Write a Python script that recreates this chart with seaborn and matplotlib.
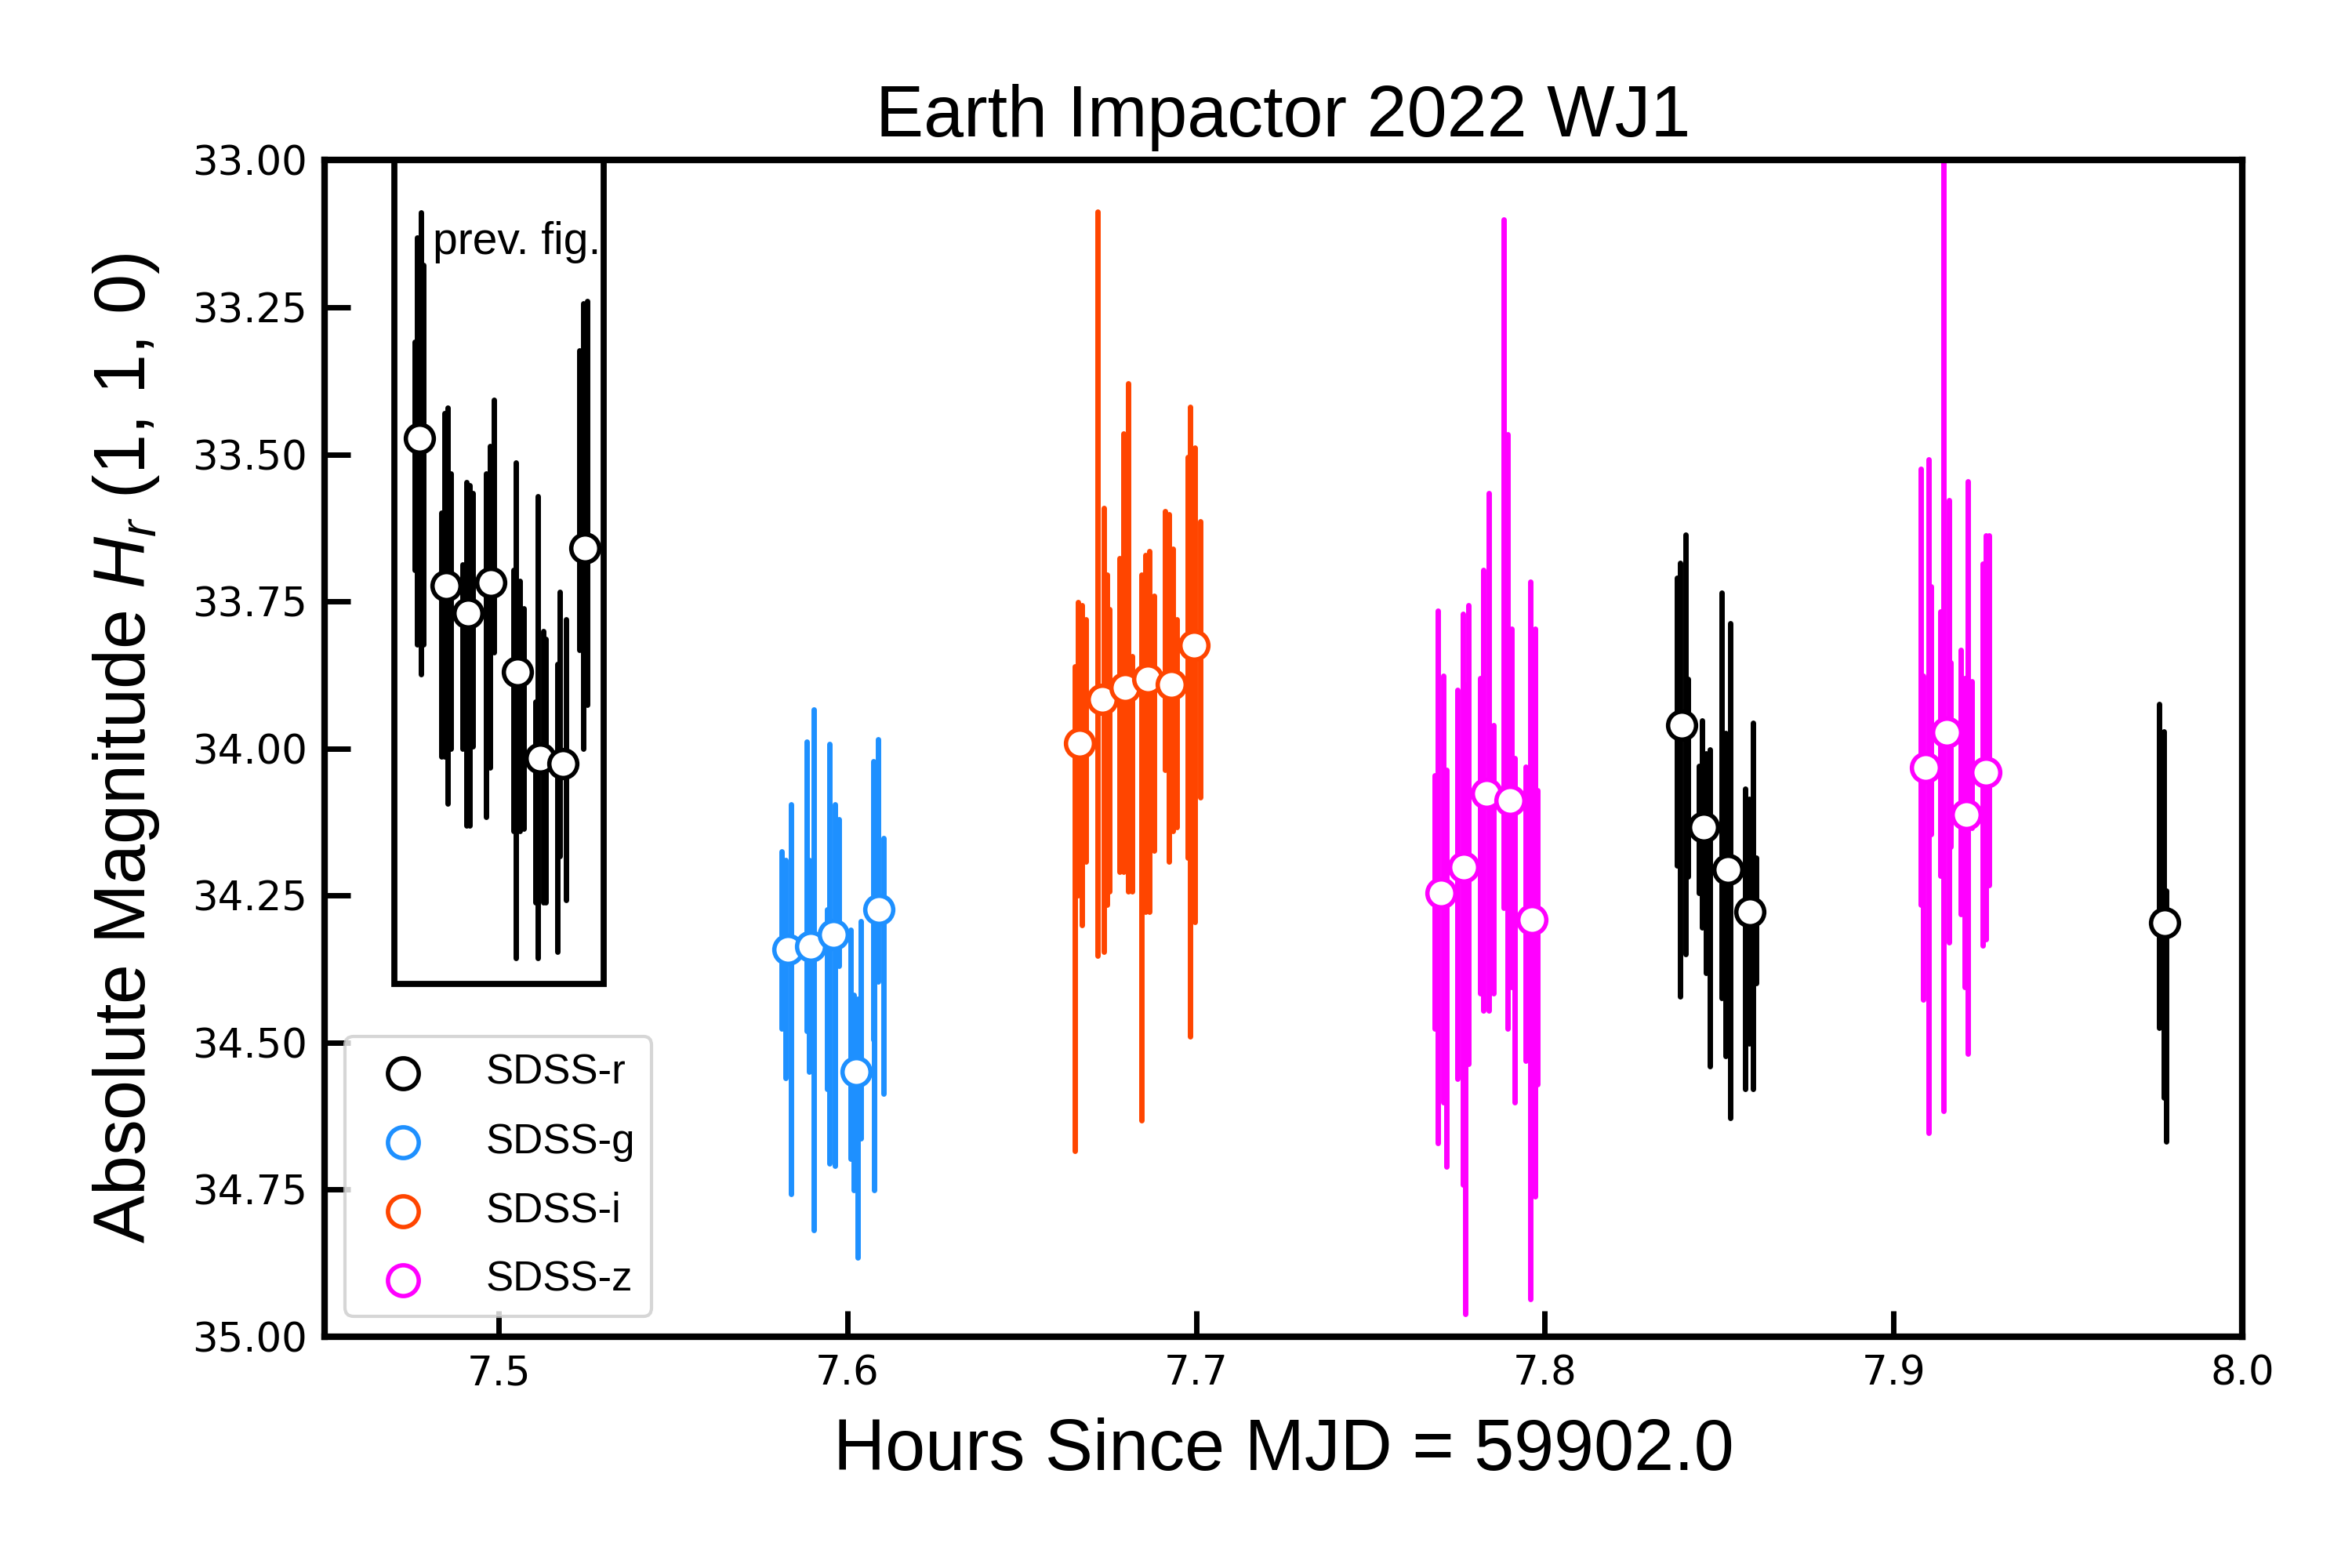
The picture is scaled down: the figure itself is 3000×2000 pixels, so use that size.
import numpy as np
import pandas as pd
import matplotlib
matplotlib.use('Agg')
import matplotlib.pyplot as plt
from matplotlib.patches import Rectangle
from matplotlib.ticker import FormatStrFormatter
import seaborn as sns

# binned points (open circles), hours since MJD 59902.0 and H_r
r_x = [7.4772, 7.4848, 7.4911, 7.4977, 7.5053, 7.5118, 7.5183, 7.5246,
       7.8393, 7.8456, 7.8525, 7.8589, 7.9777]
r_y = [33.472, 33.723, 33.770, 33.718, 33.870, 34.017, 34.026, 33.659,
       33.960, 34.134, 34.205, 34.278, 34.296]
g_x = [7.5830, 7.5895, 7.5960, 7.6025, 7.6089]
g_y = [34.341, 34.336, 34.316, 34.549, 34.274]
i_x = [7.6666, 7.6731, 7.6796, 7.6862, 7.6928, 7.6994]
i_y = [33.991, 33.917, 33.897, 33.882, 33.891, 33.825]
z_x = [7.7703, 7.7768, 7.7832, 7.7899, 7.7964, 7.9092, 7.9152, 7.9209, 7.9266]
z_y = [34.246, 34.201, 34.076, 34.089, 34.291, 34.032, 33.973, 34.113, 34.040]

# single exposures: time, upper and lower end of the error bar
r_bar_x = [7.4758, 7.4766, 7.4776, 7.4784, 7.4835, 7.4844, 7.4853, 7.4863,
           7.4896, 7.4907, 7.4917, 7.4926, 7.4963, 7.4974, 7.4986,
           7.5041, 7.5049, 7.5060, 7.5071, 7.5105, 7.5111, 7.5127, 7.5133,
           7.5168, 7.5175, 7.5193, 7.5231, 7.5242, 7.5254,
           7.8378, 7.8389, 7.8403, 7.8410, 7.8441, 7.8452, 7.8462, 7.8473,
           7.8507, 7.8519, 7.8532, 7.8574, 7.8586, 7.8598, 7.8607,
           7.9762, 7.9775, 7.9782]
r_bar_top = [33.309, 33.131, 33.089, 33.178, 33.599, 33.430, 33.420, 33.533,
             33.687, 33.547, 33.552, 33.566, 33.533, 33.486, 33.407,
             33.697, 33.514, 33.715, 33.762, 33.921, 33.571, 33.800, 33.814,
             33.856, 33.734, 33.781, 33.323, 33.243, 33.239,
             33.710, 33.685, 33.636, 33.882, 34.030, 33.953, 34.009, 34.002,
             33.735, 33.974, 33.787, 34.069, 34.086, 33.956, 34.185,
             33.925, 33.971, 34.242]
r_bar_bot = [33.697, 33.823, 33.874, 33.823, 34.014, 34.014, 34.094, 34.000,
             34.000, 34.131, 34.131, 33.996, 34.117, 34.033, 33.837,
             34.141, 34.356, 34.141, 34.136, 34.262, 34.356, 34.262, 34.262,
             34.346, 34.183, 34.258, 33.832, 34.000, 33.926,
             34.199, 34.421, 34.350, 34.217, 34.245, 34.304, 34.382, 34.540,
             34.424, 34.523, 34.628, 34.579, 34.501, 34.579, 34.399,
             34.475, 34.594, 34.668]

g_bar_x = [7.5811, 7.5822, 7.5837, 7.5882, 7.5889, 7.5904,
           7.5942, 7.5949, 7.5964, 7.5975, 7.6009, 7.6018, 7.6029, 7.6038,
           7.6074, 7.6077, 7.6088, 7.6103]
g_bar_top = [34.175, 34.190, 34.095, 33.988, 34.190, 33.934,
             34.274, 33.992, 34.095, 34.121, 34.308, 34.419, 34.426, 34.293,
             34.022, 34.339, 33.984, 34.152]
g_bar_bot = [34.476, 34.560, 34.758, 34.480, 34.549, 34.819,
             34.579, 34.705, 34.709, 34.369, 34.697, 34.751, 34.865, 34.663,
             34.495, 34.751, 34.396, 34.587]

i_bar_x = [7.6653, 7.6662, 7.6673, 7.6684, 7.6718, 7.6736, 7.6744, 7.6751,
           7.6780, 7.6792, 7.6806, 7.6815, 7.6844, 7.6855, 7.6865, 7.6878,
           7.6911, 7.6922, 7.6934, 7.6945, 7.6975, 7.6982, 7.6997, 7.7012]
i_bar_top = [33.860, 33.751, 33.757, 33.780, 33.088, 33.591, 33.705, 33.763,
             33.677, 33.465, 33.379, 33.843, 33.705, 33.671, 33.665, 33.740,
             33.597, 33.602, 33.660, 33.780, 33.505, 33.419, 33.488, 33.614]
i_bar_bot = [34.684, 34.249, 34.300, 34.192, 34.352, 34.346, 34.266, 34.243,
             34.209, 34.209, 34.243, 34.243, 34.632, 34.277, 34.277, 34.174,
             34.037, 34.192, 34.140, 34.134, 34.186, 34.489, 34.295, 34.083]

z_bar_x = [7.7683, 7.7692, 7.7708, 7.7718, 7.7750, 7.7766, 7.7772, 7.7781,
           7.7815, 7.7824, 7.7839, 7.7852, 7.7882, 7.7894, 7.7904, 7.7914,
           7.7945, 7.7958, 7.7973, 7.7978,
           7.9079, 7.9085, 7.9100, 7.9108, 7.9135, 7.9144, 7.9159, 7.9164,
           7.9194, 7.9204, 7.9213, 7.9224, 7.9256, 7.9266, 7.9274]
z_bar_top = [34.046, 33.766, 33.876, 34.036, 33.901, 33.771, 33.891, 33.756,
             33.881, 33.696, 33.566, 33.961, 33.101, 33.466, 33.796, 34.016,
             34.031, 33.716, 33.796, 34.071,
             33.524, 33.876, 33.508, 33.724, 33.767, 32.950, 33.578, 33.854,
             33.832, 33.881, 33.546, 33.886, 33.686, 33.638, 33.638]
z_bar_bot = [34.476, 34.671, 34.601, 34.711, 34.561, 34.741, 34.961, 34.536,
             34.416, 34.446, 34.446, 34.416, 34.271, 34.476, 34.406, 34.601,
             34.531, 34.936, 34.761, 34.571,
             34.265, 34.427, 34.654, 34.146, 34.216, 34.616, 34.329, 34.167,
             34.281, 34.405, 34.519, 34.135, 34.335, 34.324, 34.232]

filter_names = ["SDSS-r", "SDSS-g", "SDSS-i", "SDSS-z"]
filter_colors = ["black", "dodgerblue", "orangered", "magenta"]

sns.set_style("ticks")
plt.rcParams['font.family'] = ['Liberation Sans', 'DejaVu Sans']
plt.rcParams['mathtext.fontset'] = 'custom'
plt.rcParams['mathtext.rm'] = 'Liberation Sans'
plt.rcParams['mathtext.it'] = 'Liberation Sans:italic'
plt.rcParams['text.color'] = 'black'
plt.rcParams['axes.labelcolor'] = 'black'
plt.rcParams['axes.edgecolor'] = 'black'
plt.rcParams['xtick.color'] = 'black'
plt.rcParams['ytick.color'] = 'black'

points = [(r_x, r_y, r_bar_x, r_bar_top, r_bar_bot),
          (g_x, g_y, g_bar_x, g_bar_top, g_bar_bot),
          (i_x, i_y, i_bar_x, i_bar_top, i_bar_bot),
          (z_x, z_y, z_bar_x, z_bar_top, z_bar_bot)]

fig = plt.figure(figsize=(15, 10), dpi=200)
ax = fig.add_axes([0.138, 0.1475, 0.8153, 0.7503])

for (px, py, bx, btop, bbot), color in zip(points, filter_colors):
    ax.vlines(bx, btop, bbot, colors=color, linewidth=2.5,
              capstyle='round', zorder=2)

for (px, py, bx, btop, bbot), name, color in zip(points, filter_names, filter_colors):
    df = pd.DataFrame({'t': px, 'H': py})
    sns.scatterplot(data=df, x='t', y='H', ax=ax, color='white', edgecolor=color,
                    linewidth=2.0, s=165, label=name, zorder=3)

# box around the points from the previous figure
ax.add_patch(Rectangle((7.47, 33.0), 0.06, 1.4, fill=False, edgecolor='black',
                       linewidth=2.8, zorder=4, clip_on=False))
ax.text(7.481, 33.14, "prev. fig.", fontsize=20.5, ha='left', va='center')

ax.set_xlim(7.45, 8.0)
ax.set_ylim(35.0, 33.0)
ax.set_xticks([7.5, 7.6, 7.7, 7.8, 7.9, 8.0])
ax.set_yticks(np.arange(33.0, 35.01, 0.25))
ax.yaxis.set_major_formatter(FormatStrFormatter('%.2f'))
ax.tick_params(direction='in', length=12, width=2.5, labelsize=18.5, pad=8,
               top=False, right=False, labelfontfamily='DejaVu Sans')
for side in ax.spines.values():
    side.set_linewidth(3)
    side.set_color('black')

ax.set_title("Earth Impactor 2022 WJ1", fontsize=33, pad=11)
ax.set_xlabel("Hours Since MJD = 59902.0", fontsize=33, labelpad=11)
ax.set_ylabel("Absolute Magnitude $H_r$ (1, 1, 0)", fontsize=33, labelpad=14)

leg = ax.legend(loc='lower left', fontsize=19, handletextpad=1.0, frameon=True,
                edgecolor='0.8', framealpha=0.8, fancybox=True,
                labelspacing=0.72, markerscale=1.1)
leg.get_frame().set_linewidth(1.5)

fig.savefig("out.png", dpi=200)
plt.close(fig)
